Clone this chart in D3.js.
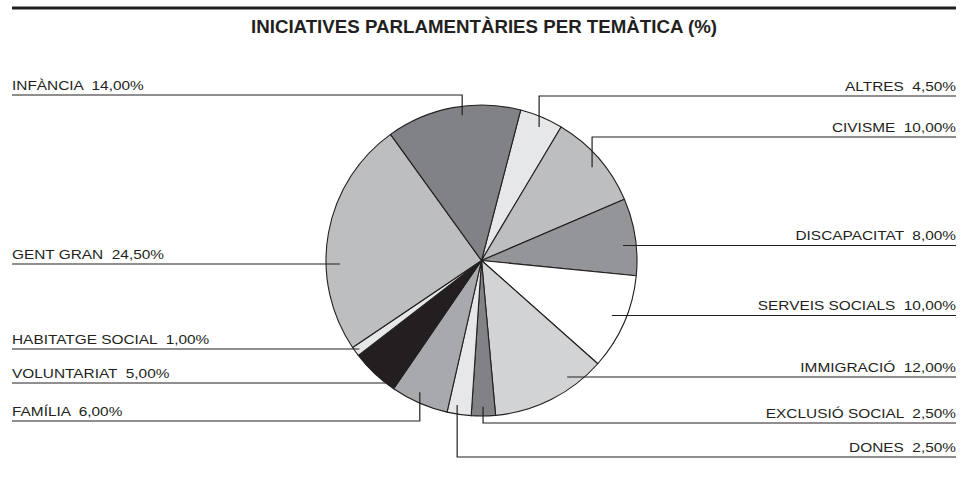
<!DOCTYPE html>
<html>
<head>
<meta charset="utf-8">
<script src="https://cdn.jsdelivr.net/npm/d3@7"></script>
<style>
  html, body { margin: 0; padding: 0; background: #fff; }
  svg { display: block; }
  text { font-family: "Liberation Sans", Arial, Helvetica, sans-serif; fill: #231f20; white-space: pre; }
</style>
</head>
<body>
<svg id="chart" width="969" height="492"></svg>
<script>
// ---- data ----
const title = "INICIATIVES PARLAMENTÀRIES PER TEMÀTICA (%)";
const categories = ["ALTRES", "CIVISME", "DISCAPACITAT", "SERVEIS SOCIALS", "IMMIGRACIÓ",
  "EXCLUSIÓ SOCIAL", "DONES", "FAMÍLIA", "VOLUNTARIAT", "HABITATGE SOCIAL", "GENT GRAN", "INFÀNCIA"];
const values = [4.5, 10, 8, 10, 12, 2.5, 2.5, 6, 5, 1, 24.5, 14];
const colors = ["#e6e7e8", "#bcbec0", "#939598", "#ffffff", "#d1d3d4",
  "#808285", "#e6e7e8", "#a7a9ac", "#231f20", "#e6e7e8", "#bcbec0", "#808285"];

// ---- layout (label placement) ----
const labelLayout = {
  "INFÀNCIA":         { side: "left",  y: 95,  type: "elbow", f: 0.56, k: 0.943 },
  "GENT GRAN":        { side: "left",  y: 264, type: "flat",  k: 0.91 },
  "HABITATGE SOCIAL": { side: "left",  y: 349, type: "flat",  k: 0.97 },
  "VOLUNTARIAT":      { side: "left",  y: 383, type: "flat",  k: 1.0 },
  "FAMÍLIA":          { side: "left",  y: 421, type: "elbow", f: 0.57, k: 0.935 },
  "ALTRES":           { side: "right", y: 96,  type: "elbow", f: 0.54, k: 0.935 },
  "CIVISME":          { side: "right", y: 137, type: "elbow", f: 0.53, k: 0.93 },
  "DISCAPACITAT":     { side: "right", y: 245.5, type: "flat", k: 0.915 },
  "SERVEIS SOCIALS":  { side: "right", y: 315.5, type: "flat", k: 0.91 },
  "IMMIGRACIÓ":       { side: "right", y: 377, type: "flat",  k: 0.93 },
  "EXCLUSIÓ SOCIAL":  { side: "right", y: 423, type: "elbow", f: 0.51, k: 0.94 },
  "DONES":            { side: "right", y: 457, type: "elbow", f: 0.64, k: 0.943 }
};

const cx = 481.5, cy = 260.5, R = 155.5;
const leftX = 12, rightX = 956;
const ink = "#231f20";
const stretch = 1.14;

const svg = d3.select("#chart");

// top rule
svg.append("rect")
  .attr("x", leftX).attr("y", 6.5)
  .attr("width", rightX - leftX).attr("height", 3)
  .attr("fill", ink);

// title
svg.append("text")
  .attr("x", 484).attr("y", 33)
  .attr("text-anchor", "middle")
  .attr("font-weight", "bold")
  .attr("font-size", 18)
  .attr("textLength", 466)
  .attr("lengthAdjust", "spacingAndGlyphs")
  .text(title);

const data = categories.map((c, i) => ({ name: c, value: values[i], color: colors[i] }));

const startDeg = 14.6;
const pie = d3.pie().sort(null).value(d => d.value)
  .startAngle(startDeg * Math.PI / 180)
  .endAngle(startDeg * Math.PI / 180 + 2 * Math.PI);
const arcs = pie(data);
const arc = d3.arc().innerRadius(0).outerRadius(R);

const g = svg.append("g").attr("transform", `translate(${cx},${cy})`);
g.selectAll("path").data(arcs).join("path")
  .attr("d", arc)
  .attr("fill", d => d.data.color)
  .attr("stroke", ink)
  .attr("stroke-width", 1.1)
  .attr("stroke-linejoin", "round");

const fmt = v => d3.format(".2f")(v).replace(".", ",") + "%";

const lg = svg.append("g");
arcs.forEach(a => {
  const L = labelLayout[a.data.name];
  if (!L) return;
  const edgeX = L.side === "left" ? leftX : rightX;
  let pts;
  if (L.type === "elbow") {
    const ang = a.startAngle + L.f * (a.endAngle - a.startAngle);
    const r = L.k * R;
    const ax = cx + r * Math.sin(ang);
    const ay = cy - r * Math.cos(ang);
    pts = [[edgeX, L.y], [ax, L.y], [ax, ay]];
  } else {
    const r = L.k * R;
    const dy = L.y - cy;
    const dx = Math.sqrt(Math.max(0, r * r - dy * dy));
    const ax = L.side === "left" ? cx - dx : cx + dx;
    pts = [[edgeX, L.y], [ax, L.y]];
  }
  lg.append("path")
    .attr("d", d3.line()(pts))
    .attr("fill", "none")
    .attr("stroke", ink)
    .attr("stroke-width", 1.2);
  const t = lg.append("text")
    .attr("x", edgeX)
    .attr("y", L.y - 5.5)
    .attr("text-anchor", L.side === "left" ? "start" : "end")
    .attr("font-size", 13.5)
    .text(a.data.name + "  " + fmt(a.data.value));
  const len = t.node().getComputedTextLength();
  t.attr("textLength", len * stretch).attr("lengthAdjust", "spacingAndGlyphs");
});
</script>
</body>
</html>
